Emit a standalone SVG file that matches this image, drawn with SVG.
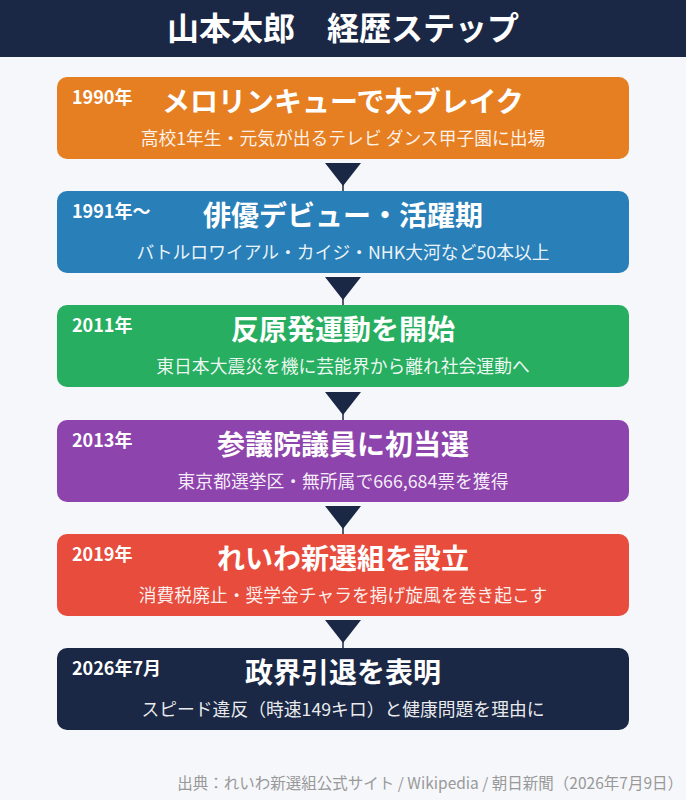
<svg xmlns="http://www.w3.org/2000/svg" width="686" height="800" viewBox="0 0 686 800">
<style>
text{font-family:"Noto Sans CJK JP","Noto Sans",sans-serif;fill:#fff}
.yr{font-size:18px;font-weight:700}
.tt{font-size:28px;font-weight:700;text-anchor:middle}
.st{font-size:17.8px;text-anchor:middle;fill-opacity:0.92}
.arr{fill:#1b2845}
.ln{stroke:#1b2845;stroke-width:1.5}
</style>
<rect width="686" height="800" fill="#f5f7fa"/>
<g id="header">
<rect width="686" height="57" fill="#1b2845"/>
<text x="343" y="40" style="font-size:32px;font-weight:700;text-anchor:middle">山本太郎　経歴ステップ</text>
</g>
<g id="connectors">
<line class="ln" x1="343" y1="180" x2="343" y2="191"/>
<polygon class="arr" points="325,163 361,163 343,186"/>
<line class="ln" x1="343" y1="294" x2="343" y2="305"/>
<polygon class="arr" points="325,277 361,277 343,300"/>
<line class="ln" x1="343" y1="408" x2="343" y2="420"/>
<polygon class="arr" points="325,392 361,392 343,415"/>
<line class="ln" x1="343" y1="523" x2="343" y2="534"/>
<polygon class="arr" points="325,506 361,506 343,529"/>
<line class="ln" x1="343" y1="637" x2="343" y2="648"/>
<polygon class="arr" points="325,620 361,620 343,643"/>
</g>
<g id="step1">
<rect x="57" y="77" width="572" height="82" rx="10" fill="#e67e22"/>
<text class="yr" x="72" y="104">1990年</text>
<text class="tt" x="343" y="112">メロリンキューで大ブレイク</text>
<text class="st" x="343" y="145">高校1年生・元気が出るテレビ ダンス甲子園に出場</text>
</g>
<g id="step2">
<rect x="57" y="191" width="572" height="82" rx="10" fill="#2980b9"/>
<text class="yr" x="72" y="218">1991年〜</text>
<text class="tt" x="343" y="226">俳優デビュー・活躍期</text>
<text class="st" x="343" y="259">バトルロワイアル・カイジ・NHK大河など50本以上</text>
</g>
<g id="step3">
<rect x="57" y="305" width="572" height="82" rx="10" fill="#27ae60"/>
<text class="yr" x="72" y="332">2011年</text>
<text class="tt" x="343" y="340">反原発運動を開始</text>
<text class="st" x="343" y="373">東日本大震災を機に芸能界から離れ社会運動へ</text>
</g>
<g id="step4">
<rect x="57" y="420" width="572" height="82" rx="10" fill="#8e44ad"/>
<text class="yr" x="72" y="447">2013年</text>
<text class="tt" x="343" y="455">参議院議員に初当選</text>
<text class="st" x="343" y="488">東京都選挙区・無所属で666,684票を獲得</text>
</g>
<g id="step5">
<rect x="57" y="534" width="572" height="82" rx="10" fill="#e74c3c"/>
<text class="yr" x="72" y="561">2019年</text>
<text class="tt" x="343" y="569">れいわ新選組を設立</text>
<text class="st" x="343" y="602">消費税廃止・奨学金チャラを掲げ旋風を巻き起こす</text>
</g>
<g id="step6">
<rect x="57" y="648" width="572" height="82" rx="10" fill="#1b2845"/>
<text class="yr" x="72" y="675">2026年7月</text>
<text class="tt" x="343" y="683">政界引退を表明</text>
<text class="st" x="343" y="716">スピード違反（時速149キロ）と健康問題を理由に</text>
</g>
<text x="683" y="789" style="font-size:15.5px;fill:#999;text-anchor:end">出典：れいわ新選組公式サイト / Wikipedia / 朝日新聞（2026年7月9日）</text>
</svg>
